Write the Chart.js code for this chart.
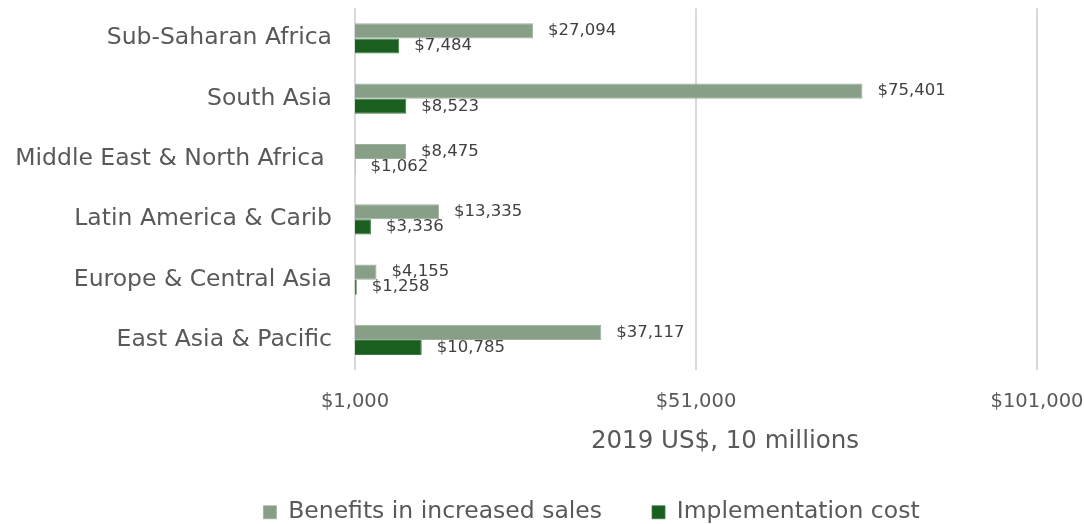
<!DOCTYPE html>
<html>
<head>
<meta charset="utf-8">
<script src="https://cdn.jsdelivr.net/npm/chart.js@4/dist/chart.umd.min.js"></script>
<style>
  html, body { margin: 0; padding: 0; background: #ffffff; }
  #wrap { width: 1084px; height: 524px; }
</style>
</head>
<body>
<div id="wrap"><canvas id="chart" width="1084" height="524"></canvas></div>
<script>
// Regions and values (2019 US$, 10 millions)
const regions = [
  'Sub-Saharan Africa',
  'South Asia',
  'Middle East & North Africa ',
  'Latin America & Carib',
  'Europe & Central Asia',
  'East Asia & Pacific'
];
const salesBenefits = [27094, 75401, 8475, 13335, 4155, 37117];
const implementationCost = [7484, 8523, 1062, 3336, 1258, 10785];
const axisTicks = [1000, 51000, 101000];
const axisTitle = '2019 US$, 10 millions';

const FONT = "'DejaVu Sans', sans-serif";
const TEXT = '#595959';
const money = v => '$' + Number(v).toLocaleString('en-US');

// Value labels just past the end of each bar
const valueLabels = {
  id: 'valueLabels',
  afterDatasetsDraw(chart) {
    const ctx = chart.ctx;
    ctx.save();
    ctx.font = '16.5px ' + FONT;
    ctx.fillStyle = '#404040';
    ctx.textAlign = 'left';
    ctx.textBaseline = 'middle';
    chart.data.datasets.forEach((ds, i) => {
      chart.getDatasetMeta(i).data.forEach((bar, j) => {
        ctx.fillText(money(ds.data[j]), bar.x + 15, bar.y);
      });
    });
    ctx.restore();
  }
};

// Axis title drawn under the tick labels
const axisTitlePlugin = {
  id: 'axisTitle',
  afterDraw(chart) {
    const s = chart.scales.x;
    const ctx = chart.ctx;
    ctx.save();
    ctx.font = '24.5px ' + FONT;
    ctx.fillStyle = TEXT;
    ctx.textAlign = 'center';
    ctx.textBaseline = 'middle';
    ctx.fillText(axisTitle, (s.left + s.right) / 2 + 29, s.bottom - 9);
    ctx.restore();
  }
};

// Legend row sits a little right of the canvas centre
const legendShift = {
  id: 'legendShift',
  afterLayout(chart) {
    if (chart.legend) {
      chart.legend.left += 73;
      chart.legend.right += 73;
    }
  }
};

new Chart(document.getElementById('chart'), {
  type: 'bar',
  data: {
    labels: regions,
    datasets: [
      {
        label: 'Benefits in increased sales',
        data: salesBenefits,
        backgroundColor: '#879e87',
        borderColor: '#9cb09c',
        borderWidth: { top: 1, bottom: 1, right: 1, left: 0 },
        borderSkipped: 'start',
        barPercentage: 1,
        categoryPercentage: 0.5
      },
      {
        label: 'Implementation cost',
        data: implementationCost,
        backgroundColor: '#1a5e20',
        borderColor: '#3f7a44',
        borderWidth: { top: 1, bottom: 1, right: 1, left: 0 },
        borderSkipped: 'start',
        barPercentage: 1,
        categoryPercentage: 0.5
      }
    ]
  },
  options: {
    indexAxis: 'y',
    responsive: false,
    animation: false,
    layout: { padding: { left: 0, right: 47, top: 0, bottom: -10 } },
    scales: {
      x: {
        min: 1000,
        max: 101000,
        afterBuildTicks(scale) { scale.ticks = axisTicks.map(v => ({ value: v })); },
        afterFit(scale) {
          scale.height += 16;
          scale.paddingLeft = 0;
          scale.paddingRight = 0;
        },
        grid: { color: '#d9d9d9', lineWidth: 2, drawTicks: false },
        border: { display: false },
        ticks: {
          font: { family: FONT, size: 19.5 },
          color: TEXT,
          padding: 20.5,
          maxRotation: 0,
          callback: v => money(v)
        }
      },
      y: {
        afterFit(scale) { scale.width = 355; },
        grid: { display: true, color: 'rgba(0,0,0,0)', drawOnChartArea: false, tickLength: 23 },
        border: { display: false },
        ticks: {
          font: { family: FONT, size: 23.5, lineHeight: 0.7 },
          color: TEXT,
          padding: 0
        }
      }
    },
    plugins: {
      legend: {
        position: 'bottom',
        labels: {
          font: { family: FONT, size: 23.5, lineHeight: 1 },
          color: TEXT,
          boxWidth: 13,
          boxHeight: 13,
          padding: 50
        }
      },
      tooltip: { enabled: false }
    }
  },
  plugins: [valueLabels, axisTitlePlugin, legendShift]
});
</script>
</body>
</html>
